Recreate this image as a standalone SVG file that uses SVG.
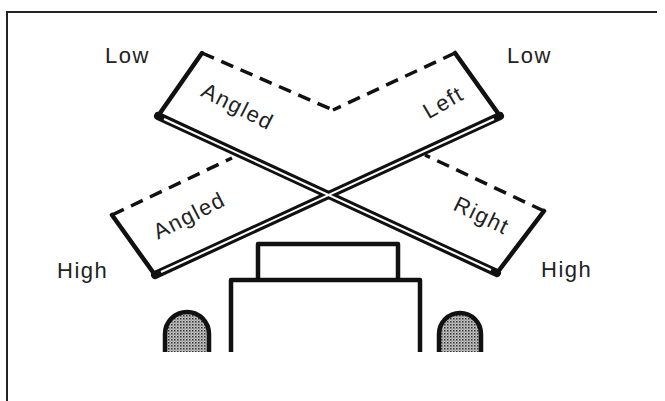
<svg xmlns="http://www.w3.org/2000/svg" width="665" height="401" viewBox="0 0 665 401">
  <defs>
    <pattern id="stipple" width="3" height="3" patternUnits="userSpaceOnUse">
      <rect width="3" height="3" fill="#c4c4c4"/>
      <rect x="0" y="0" width="1.5" height="1.5" fill="#333"/>
      <rect x="1.5" y="1.5" width="1" height="1" fill="#666"/>
    </pattern>
    <style>
      .frame { stroke: #222; stroke-width: 2; fill: none; }
      .edge { stroke: #111; stroke-width: 4.5; fill: none; stroke-linecap: round; stroke-linejoin: round; }
      .dash { stroke: #111; stroke-width: 3.5; fill: none; stroke-dasharray: 13 8; stroke-linecap: butt; }
      .board { stroke: #111; stroke-width: 8; fill: none; stroke-linecap: round; }
      .gap { stroke: #fff; stroke-width: 2; fill: none; }
      .body { stroke: #111; stroke-width: 4.5; fill: #fff; stroke-linejoin: round; }
      .wheel { stroke: #111; stroke-width: 4.5; fill: url(#stipple); }
      text { font-family: "Liberation Sans", Arial, sans-serif; font-size: 22px; fill: #222; letter-spacing: 1.5px; }
    </style>
  </defs>

  <rect width="665" height="401" fill="#fff"/>

  <!-- outer frame: top and left rule -->
  <path class="frame" d="M7,401 V12 H657"/>

  <!-- vehicle seen from behind -->
  <g id="vehicle">
    <path class="wheel" d="M165,352 V334 A22,22 0 0 1 209,334 V352"/>
    <path class="wheel" d="M439,352 V334 A21,21 0 0 1 481,334 V352"/>
    <path class="body" d="M258,279 V244 H398 V279"/>
    <path class="body" d="M231,352 V280 H420 V352"/>
  </g>

  <!-- panel A: descends from upper left to lower right -->
  <g id="panel-a">
    <path class="edge" d="M202,53 L158,116"/>
    <path class="edge" d="M497,273 L544,211"/>
    <path class="dash" d="M202,53 L333,110"/>
    <path class="dash" d="M544,211 L425,155"/>
  </g>

  <!-- panel B: rises from lower left to upper right -->
  <g id="panel-b">
    <path class="edge" d="M455,53 L500,116"/>
    <path class="edge" d="M155,275 L112,215"/>
    <path class="dash" d="M455,53 L333,110"/>
    <path class="dash" d="M112,215 L232,158"/>
  </g>

  <!-- the two crossing boards, drawn as double lines -->
  <g id="connectors">
    <path class="board" d="M158,116 L497,273"/>
    <path class="board" d="M500,116 L155,275"/>
    <path class="gap" d="M164,119 L491,270"/>
    <path class="gap" d="M494,119 L161,272"/>
  </g>

  <g id="labels">
    <text x="105" y="63">Low</text>
    <text x="507" y="63">Low</text>
    <text x="57" y="278">High</text>
    <text x="541" y="277">High</text>
    <text transform="translate(238,106) rotate(27)" y="8" text-anchor="middle">Angled</text>
    <text transform="translate(443,102) rotate(-30)" y="8" text-anchor="middle">Left</text>
    <text transform="translate(189,215) rotate(-27)" y="8" text-anchor="middle">Angled</text>
    <text transform="translate(482,215) rotate(26)" y="8" text-anchor="middle">Right</text>
  </g>
</svg>
